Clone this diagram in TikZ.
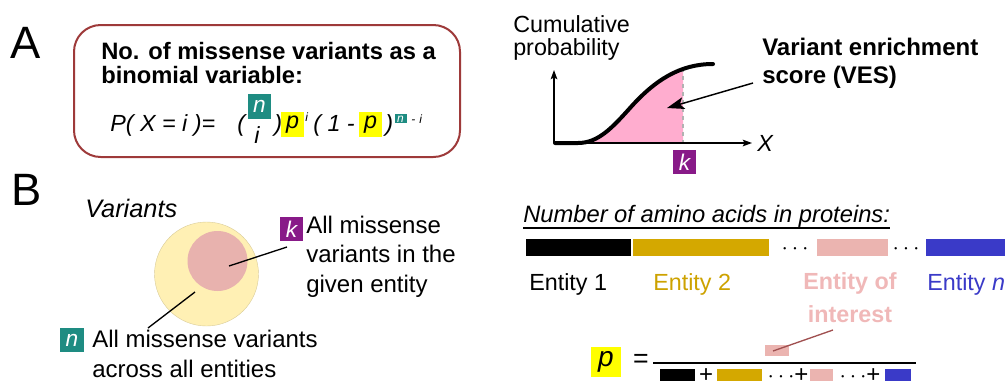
\documentclass[tikz,border=0pt]{standalone}
\usepackage{fontspec}
\setmainfont{Liberation Sans}
\usetikzlibrary{arrows.meta}
\definecolor{boxred}{HTML}{9E3A3A}
\definecolor{tealb}{HTML}{1E8C82}
\definecolor{purp}{HTML}{881A88}
\definecolor{yel}{HTML}{FFFF00}
\definecolor{goldbar}{HTML}{D4A800}
\definecolor{goldtxt}{HTML}{CDA200}
\definecolor{pinkbar}{HTML}{EBB4B0}
\definecolor{pinktxt}{HTML}{F0B8B8}
\definecolor{bluebar}{HTML}{3A3AC8}
\definecolor{fillpink}{HTML}{FFADCF}
\definecolor{circyel}{HTML}{FFF0B4}
\definecolor{circpink}{HTML}{E8B2AE}
\definecolor{linered}{HTML}{A05050}
\begin{document}
\begin{tikzpicture}[x=0.75pt,y=-0.75pt,
  lbl/.style={inner sep=0pt, anchor=base west, align=left},
  big/.style={font=\fontsize{34}{34}\selectfont},
  reg/.style={font=\fontsize{17.5}{22}\selectfont},
  sqbox/.style={inner sep=0pt, minimum width=17.5pt, minimum height=18.5pt, text=white, font=\fontsize{17}{17}\selectfont\itshape},
  ybox/.style={inner sep=0pt, minimum width=17.5pt, minimum height=18.5pt, fill=yel, font=\fontsize{17.5}{17.5}\selectfont\itshape},
  axis/.style={line width=1pt, -{Stealth[length=7pt,width=5pt,inset=1.5pt]}},
  bar/.style={inner sep=0pt, anchor=north west}
]
\useasboundingbox (0,0) rectangle (1005,383);

% ---------- Panel A ----------
\node[lbl, big] (lA) at (10,58) {A};
\node[draw=boxred, line width=1.5pt, rounded corners=20pt, minimum width=289.5pt, minimum height=99pt, inner sep=0pt] (box) at (267,91) {};
\node[lbl, font=\fontsize{17.8}{18}\selectfont\bfseries] (title) at (101,83) {No. of missense variants as a\\binomial variable:};

\node[lbl, reg, font=\fontsize{17.5}{17.5}\selectfont\itshape] (f1) at (110,131) {P( X = i )=};
\node[lbl, reg, font=\fontsize{17.5}{17.5}\selectfont\itshape] (f2) at (237,131) {(};
\node[sqbox, fill=tealb] (nb) at (259.5,106.5) {n};
\node[inner sep=0pt, anchor=base, font=\fontsize{17.5}{17.5}\selectfont\itshape] (fi) at (257,143) {i};
\node[lbl, font=\fontsize{17.5}{17.5}\selectfont\itshape] (f3) at (274,131) {)};
\node[ybox] (pb1) at (292.5,124.5) {p};
\node[lbl, font=\fontsize{9}{9}\selectfont\itshape] (f4) at (305,121) {i};
\node[lbl, font=\fontsize{17.5}{17.5}\selectfont\itshape] (f5) at (313,131) {( 1 -};
\node[ybox] (pb2) at (370.5,124.5) {p};
\node[lbl, font=\fontsize{17.5}{17.5}\selectfont\itshape] (f6) at (385,131) {)};
\node[inner sep=0pt, minimum width=9pt, minimum height=6.75pt, fill=tealb, text=white, font=\fontsize{9}{9}\selectfont\itshape] (nb2) at (400.5,118.8) {n};
\node[lbl, font=\fontsize{9}{9}\selectfont\itshape] (f7) at (411,123) {-\,\,i};

% graph
\node[lbl, reg, font=\fontsize{17.5}{17.2}\selectfont] (cum) at (513,55) {Cumulative\\probability};
\coordinate (O) at (554,143);
\coordinate (Ytop) at (554,70);
\coordinate (Xend) at (752,143);
\begin{scope}
  \clip (554,40) rectangle (683,143);
  \fill[fillpink] (554,143) -- (578,143) .. controls (598,143) and (612,128) .. (630,108) .. controls (655,80) and (680,64) .. (713,64) -- (713,143) -- cycle;
\end{scope}
\draw[gray!60, dashed, line width=0.8pt] (683,68) -- (683,143);
\draw[axis] (O) -- (Ytop);
\draw[axis] (O) -- (Xend);
\draw[line width=3pt, line cap=round] (555,143) -- (578,143) .. controls (598,143) and (612,128) .. (630,108) .. controls (655,80) and (680,64) .. (713,64);
\node[lbl, font=\fontsize{17.5}{17.5}\selectfont\itshape] (X) at (757,151) {X};
\node[sqbox, fill=purp] (kb) at (684.5,162) {k};
\node[lbl, font=\fontsize{18}{21}\selectfont\bfseries] (ves) at (762,83) {Variant enrichment\\score (VES)};
\coordinate (vesA) at (753,83);
\coordinate (vesB) at (667,108);
\draw[line width=1.1pt, -{Stealth[length=13pt,width=9pt,inset=3pt]}] (vesA) -- (vesB);

% ---------- Panel B ----------
\node[lbl, big] (lB) at (11,205) {B};
\node[lbl, font=\fontsize{19}{19}\selectfont\itshape] (var) at (85,217) {Variants};
\node[circle, fill=circyel, draw=circyel!85!black, line width=0.3pt, minimum size=78pt, inner sep=0pt] (bigc) at (206.5,274) {};
\node[circle, fill=circpink, minimum size=45pt, inner sep=0pt] (smc) at (217.5,261) {};
\node[sqbox, fill=purp] (kb2) at (291.5,229) {k};
\node[lbl, font=\fontsize{18}{22}\selectfont] (kt) at (306,292) {All missense\\variants in the\\given entity};
\coordinate (k1) at (229,266);
\coordinate (k2) at (287,247);
\draw[line width=1pt] (k1) -- (k2);
\node[sqbox, fill=tealb] (nb3) at (72,340) {n};
\node[lbl, font=\fontsize{18}{22}\selectfont] (nt) at (92,377) {All missense variants\\across all entities};
\coordinate (n1) at (195,292);
\coordinate (n2) at (148,328);
\draw[line width=1pt] (n1) -- (n2);

% proteins
\node[lbl, font=\fontsize{17.8}{17.8}\selectfont\itshape] (hdr) at (523,222) {Number of amino acids in proteins:};
\draw[line width=1pt] (523,228) -- (890,228);
\fill[black] (526,239) rectangle (631,256);
\fill[goldbar] (633,239) rectangle (769,256);
\node[inner sep=0pt, font=\fontsize{16}{16}\selectfont] (d1) at (795,249) {$\cdots$};
\fill[pinkbar] (817,239) rectangle (888,256);
\node[inner sep=0pt, font=\fontsize{16}{16}\selectfont] (d2) at (906,249) {$\cdots$};
\fill[bluebar] (926,239) rectangle (1010,256);

\node[lbl, font=\fontsize{17.5}{17.5}\selectfont] (e1) at (529,290) {Entity 1};
\node[lbl, font=\fontsize{17.5}{17.5}\selectfont, text=goldtxt] (e2) at (653,290) {Entity 2};
\node[inner sep=0pt, anchor=base, align=center, font=\fontsize{17.5}{24.5}\selectfont\bfseries, text=pinktxt] (eoi) at (850,322) {Entity of\\interest};
\node[lbl, font=\fontsize{17.5}{17.5}\selectfont, text=bluebar] (en) at (927,290) {Entity \textit{n}};

% fraction
\node[ybox, minimum width=22.5pt, minimum height=22.5pt, font=\fontsize{21}{21}\selectfont\itshape] (pb3) at (606,362) {p};
\node[inner sep=0pt, font=\fontsize{20}{20}\selectfont] (eq) at (641,361) {=};
\draw[line width=1.2pt] (653,363) -- (916,363);
\node[inner sep=0pt, minimum width=18pt, minimum height=8.25pt, fill=pinkbar] (pr) at (777,350.5) {};
\coordinate (l1) at (833,330);
\coordinate (l2) at (773,351);
\draw[linered, line width=1pt] (l1) -- (l2);
\fill[black] (660,369) rectangle (695,381);
\node[inner sep=0pt, font=\fontsize{18}{18}\selectfont] (pl1) at (706,376) {+};
\fill[goldbar] (717,369) rectangle (762,381);
\node[inner sep=0pt, font=\fontsize{18}{18}\selectfont] (pl2) at (788,376) {$\cdots$+};
\fill[pinkbar] (810,369) rectangle (833,381);
\node[inner sep=0pt, font=\fontsize{18}{18}\selectfont] (pl3) at (860,376) {$\cdots$+};
\fill[bluebar] (885,369) rectangle (911,381);
\end{tikzpicture}
\end{document}
